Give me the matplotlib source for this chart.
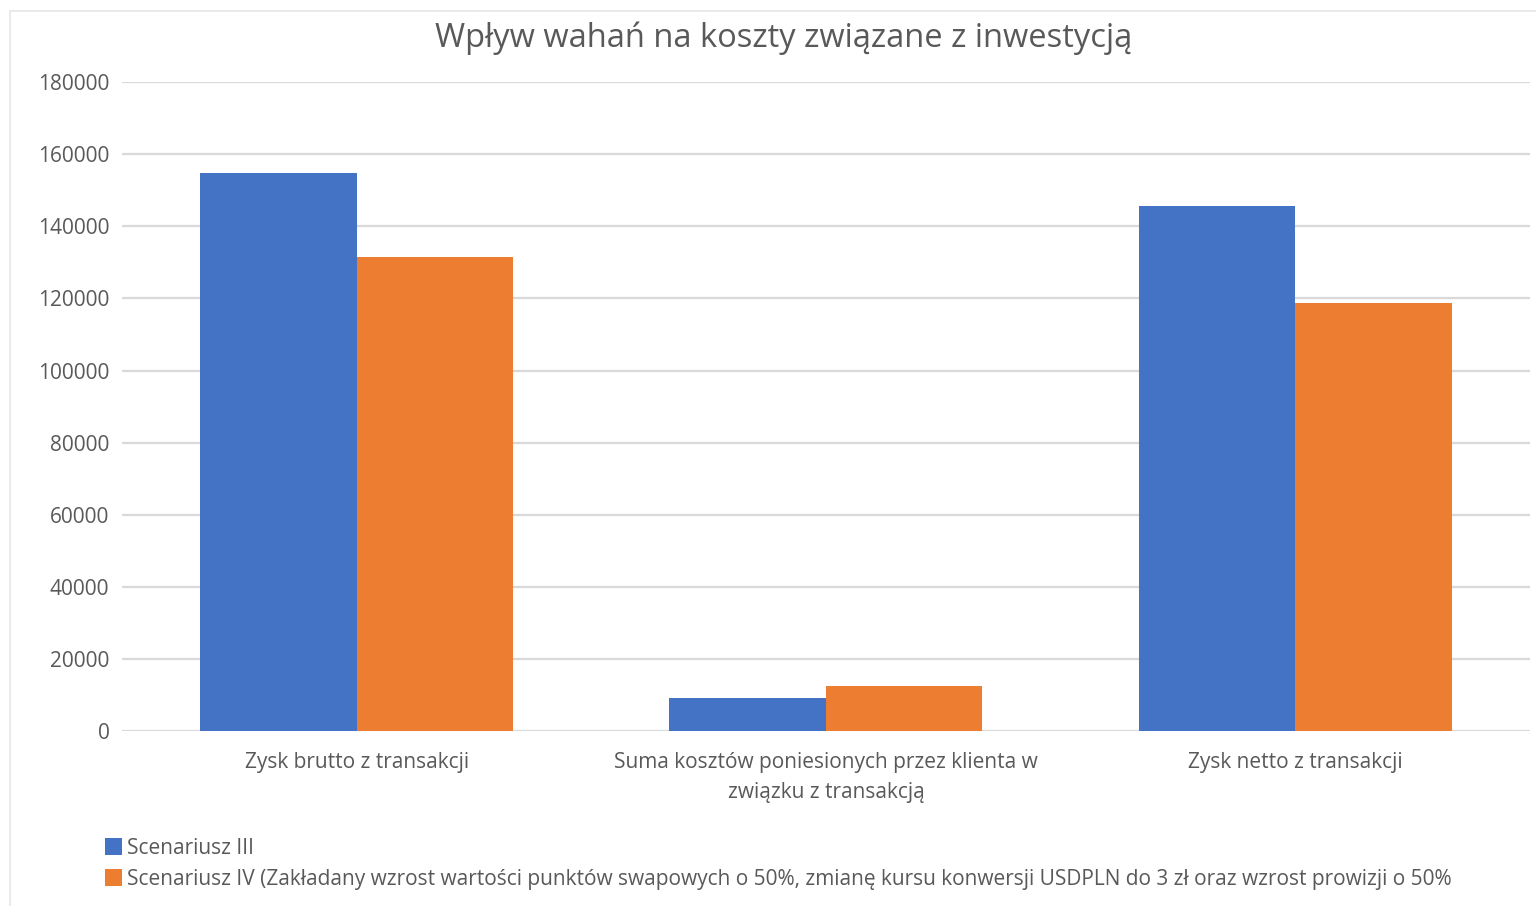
import matplotlib.pyplot as plt
import numpy as np
from matplotlib.patches import Rectangle

plt.rcParams['font.family'] = ['Open Sans', 'DejaVu Sans']

# dane
kategorie = ['Zysk brutto z transakcji',
             'Suma kosztów poniesionych przez klienta w\nzwiązku z transakcją',
             'Zysk netto z transakcji']
scenariusz_3 = [154900, 9200, 145700]
scenariusz_4 = [131400, 12500, 118800]
nazwy = ['Scenariusz III',
         'Scenariusz IV (Zakładany wzrost wartości punktów swapowych o 50%, '
         'zmianę kursu konwersji USDPLN do 3 zł oraz wzrost prowizji o 50%']
yticks = np.arange(0, 180001, 20000)

fig = plt.figure(figsize=(15.36, 9.06), dpi=100)
ax = fig.add_axes([0.0794, 0.193, 0.9166, 0.7165])

x = np.arange(len(kategorie))
w = 1 / 3
ax.bar(x - w / 2, scenariusz_3, w, color='#4472C4', label=nazwy[0], zorder=3)
ax.bar(x + w / 2, scenariusz_4, w, color='#ED7D31', label=nazwy[1], zorder=3)

ax.set_xlim(-0.5, 2.5)
ax.set_ylim(0, 180000)
ax.set_yticks(yticks)
ax.set_yticklabels([str(v) for v in yticks])
ax.set_xticks(x)
ax.set_xticklabels(kategorie, linespacing=1.55)
ax.tick_params(axis='both', length=0, labelsize=15, colors='#595959')
ax.tick_params(axis='y', pad=9)
ax.tick_params(axis='x', pad=15)
ax.grid(axis='y', color='#d9d9d9', linewidth=1.6, zorder=0)
for s in ax.spines.values():
    s.set_visible(False)

fig.suptitle('Wpływ wahań na koszty związane z inwestycją', x=0.51, y=0.976,
             fontsize=23.5, color='#595959')

ax.legend(loc='lower left', bbox_to_anchor=(0.056, -0.003), bbox_transform=fig.transFigure,
          frameon=False, fontsize=15, labelcolor='#595959', handlelength=0.85,
          handleheight=0.85, handletextpad=0.2, labelspacing=0.5)

# ramka wykresu
fig.patches.append(Rectangle((0.0065, -0.01), 1.0, 0.998, transform=fig.transFigure,
                             fill=False, edgecolor='#e6e6e6', linewidth=1.2))

fig.savefig('out.png', dpi=100)
